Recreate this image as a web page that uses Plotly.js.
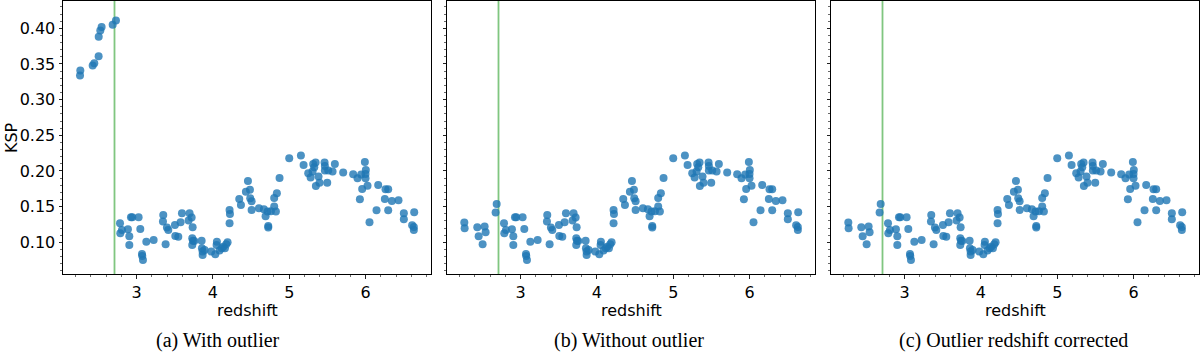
<!DOCTYPE html>
<html>
<head>
<meta charset="utf-8">
<script src="https://cdn.plot.ly/plotly-3.0.1.min.js"></script>
<style>html,body{margin:0;padding:0;background:#fff;}#chart{width:1200px;height:355px;}</style>
</head>
<body>
<div id="chart"></div>
<script>
// ---- data ----
const zMain = [2.782, 2.786, 2.808, 2.886, 2.904, 2.904, 2.926, 2.943, 3.026, 3.048, 3.070, 3.074, 3.083, 3.127, 3.223, 3.349, 3.345, 3.380, 3.397, 3.415, 3.502, 3.507, 3.546, 3.576, 3.594, 3.694, 3.681, 3.721, 3.734, 3.729, 3.738, 3.729, 3.755, 3.852, 3.856, 3.865, 3.865, 3.891, 3.978, 4.031, 4.048, 4.052, 4.087, 4.114, 4.135, 4.157, 4.175, 4.192, 4.218, 4.223, 4.218, 4.345, 4.367, 4.432, 4.459, 4.485, 4.489, 4.507, 4.507, 4.603, 4.668, 4.690, 4.716, 4.725, 4.725, 4.760, 4.803, 4.803, 4.825, 4.838, 4.873, 5.000, 5.153, 5.188, 5.249, 5.280, 5.306, 5.314, 5.328, 5.345, 5.349, 5.384, 5.397, 5.463, 5.467, 5.467, 5.498, 5.511, 5.568, 5.598, 5.707, 5.838, 5.895, 5.943, 5.956, 5.926, 5.991, 6.004, 6.000, 6.000, 6.026, 6.144, 6.052, 6.166, 6.262, 6.253, 6.297, 6.297, 6.345, 6.432, 6.502, 6.502, 6.611, 6.638, 6.633, 6.633];
const kspMain = [0.1266, 0.1126, 0.1173, 0.1182, 0.1084, 0.0963, 0.1350, 0.1350, 0.1350, 0.1187, 0.0836, 0.0808, 0.0752, 0.1009, 0.1033, 0.1383, 0.1290, 0.0972, 0.1206, 0.1173, 0.1243, 0.1089, 0.1079, 0.1280, 0.1407, 0.1407, 0.1304, 0.1346, 0.1210, 0.1056, 0.1023, 0.0963, 0.1019, 0.1023, 0.0916, 0.0869, 0.0822, 0.0893, 0.0869, 0.0832, 0.0963, 0.1009, 0.0883, 0.0916, 0.0939, 0.0916, 0.0972, 0.1000, 0.1453, 0.1397, 0.1266, 0.1607, 0.1523, 0.1710, 0.1860, 0.1738, 0.1617, 0.1575, 0.1453, 0.1477, 0.1463, 0.1364, 0.1430, 0.1229, 0.1206, 0.1435, 0.1500, 0.1621, 0.1430, 0.1687, 0.1902, 0.2178, 0.2215, 0.2084, 0.1967, 0.1907, 0.1991, 0.2098, 0.2051, 0.2117, 0.1790, 0.1921, 0.1836, 0.2117, 0.2070, 0.2005, 0.1836, 0.2005, 0.1991, 0.2098, 0.1977, 0.1953, 0.1897, 0.1949, 0.1748, 0.1603, 0.2126, 0.2014, 0.1958, 0.1897, 0.1794, 0.1449, 0.1280, 0.1804, 0.1743, 0.1607, 0.1743, 0.1449, 0.1579, 0.1589, 0.1407, 0.1322, 0.1238, 0.1421, 0.1173, 0.1215];

// low-redshift points, panel (a): with outlier
const zLowWith   = [2.258, 2.262, 2.424, 2.445, 2.502, 2.503, 2.524, 2.541, 2.686, 2.729];
const kspLowWith = [0.334, 0.341, 0.348, 0.351, 0.361, 0.388, 0.397, 0.402, 0.405, 0.411];

// low-redshift points, panel (b): without outlier
const zLowWithout   = [2.262, 2.266, 2.432, 2.450, 2.502, 2.528, 2.541, 2.672, 2.686];
const kspLowWithout = [0.1276, 0.1196, 0.1210, 0.1084, 0.0972, 0.1220, 0.1140, 0.1416, 0.1537];

// low-redshift points, panel (c): outlier redshift corrected
const zLowCorrected   = [2.262, 2.266, 2.432, 2.450, 2.502, 2.528, 2.541, 2.672, 2.686];
const kspLowCorrected = [0.1276, 0.1196, 0.1210, 0.1084, 0.0972, 0.1220, 0.1140, 0.1416, 0.1537];

const outlierZ = 2.71;
const xTickVals = [3, 4, 5, 6];
const captions = ['(a) With outlier', '(b) Without outlier', '(c) Outlier redshift corrected'];
const xLabel = 'redshift';
const yLabel = 'KSP';

// ---- layout helpers ----
const W = 1200, H = 355;
const px = v => v / W;
const py = v => (H - v) / H;
const panels = [[63, 431], [447, 815], [831, 1199]];
const yDom = [py(274.3), py(1)];
const xRange = [2.035, 6.858];
const yRange = [0.0551, 0.4383];
const tickFont = {family: 'DejaVu Sans', size: 16, color: '#000'};

const sets = [
  [zLowWith, kspLowWith],
  [zLowWithout, kspLowWithout],
  [zLowCorrected, kspLowCorrected]
];

const traces = sets.map((s, i) => ({
  type: 'scatter', mode: 'markers',
  x: s[0].concat(zMain), y: s[1].concat(kspMain),
  xaxis: i === 0 ? 'x' : 'x' + (i + 1),
  yaxis: i === 0 ? 'y' : 'y' + (i + 1),
  marker: {color: '#1f77b4', size: 8, opacity: 0.8, line: {width: 0}},
  hoverinfo: 'x+y', showlegend: false
}));

const layout = {
  width: W, height: H,
  margin: {l: 0, r: 0, t: 0, b: 0},
  paper_bgcolor: '#fff', plot_bgcolor: '#fff',
  showlegend: false,
  shapes: [], annotations: []
};

panels.forEach((p, i) => {
  const sfx = i === 0 ? '' : String(i + 1);
  layout['xaxis' + sfx] = {
    domain: [px(p[0]), px(p[1])], range: xRange, anchor: 'y' + sfx,
    tickvals: xTickVals, ticks: 'outside', ticklen: 3.5, tickwidth: 1, tickcolor: '#222',
    showline: true, mirror: true, linecolor: '#000', linewidth: 1,
    showgrid: false, zeroline: false, tickfont: tickFont,
    minor: {dtick: 0.2, tick0: 0, ticks: 'outside', ticklen: 2, tickwidth: 0.8, tickcolor: '#444', showgrid: false}
  };
  layout['yaxis' + sfx] = {
    domain: yDom, range: yRange, anchor: 'x' + sfx,
    dtick: 0.05, tick0: 0, tickformat: '.2f',
    ticks: 'outside', ticklen: 3.5, tickwidth: 1, tickcolor: '#222',
    showticklabels: i === 0,
    showline: true, mirror: true, linecolor: '#000', linewidth: 1,
    showgrid: false, zeroline: false, tickfont: tickFont,
    minor: {dtick: 0.01, tick0: 0, ticks: 'outside', ticklen: 2, tickwidth: 0.8, tickcolor: '#444', showgrid: false}
  };
  layout.shapes.push({
    type: 'line', xref: 'x' + sfx, yref: 'y' + sfx + ' domain',
    x0: outlierZ, x1: outlierZ, y0: 0, y1: 1,
    line: {color: 'rgba(44,160,44,0.6)', width: 1.8}, layer: 'below'
  });
  layout.annotations.push({
    xref: 'paper', yref: 'paper', x: px((p[0] + p[1]) / 2), y: py(310),
    xanchor: 'center', yanchor: 'middle', showarrow: false,
    text: xLabel, font: tickFont
  });
});

const capX = [218, 629, 1013];
captions.forEach((c, i) => {
  layout.annotations.push({
    xref: 'paper', yref: 'paper', x: px(capX[i]), y: py(340),
    xanchor: 'center', yanchor: 'middle', showarrow: false,
    text: c, font: {family: 'Liberation Serif', size: 20, color: '#000'}
  });
});

layout.annotations.push({
  xref: 'paper', yref: 'paper', x: 0, y: py(137.6),
  xanchor: 'left', yanchor: 'middle', showarrow: false, textangle: -90,
  text: yLabel, font: tickFont
});

Plotly.newPlot('chart', traces, layout, {displayModeBar: false, staticPlot: true});
</script>
</body>
</html>
